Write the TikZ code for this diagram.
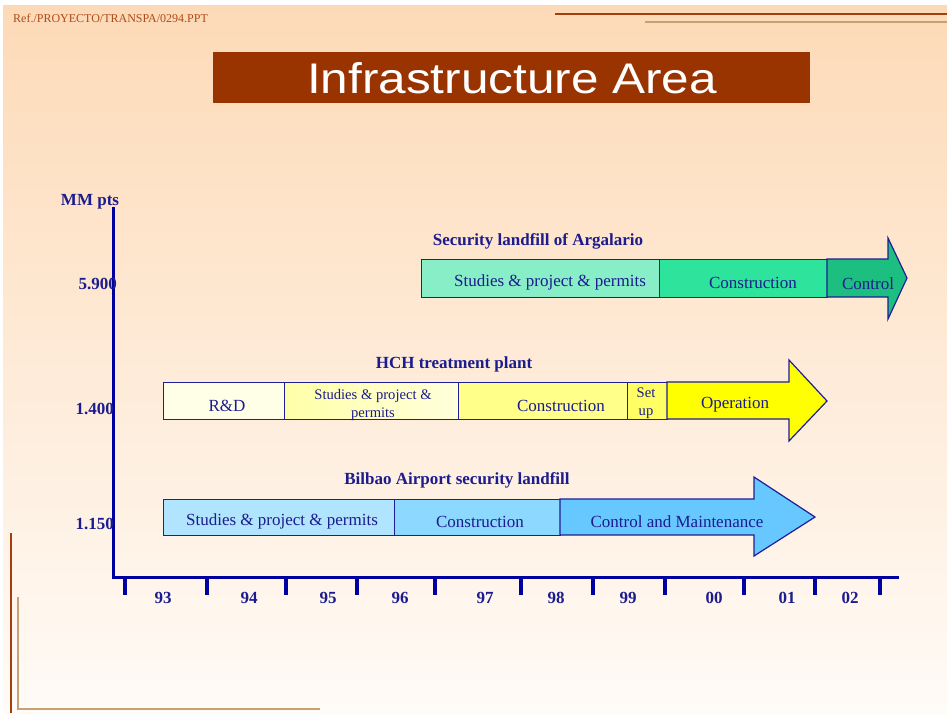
\documentclass[tikz,border=0pt]{standalone}
\usepackage{fontspec}
\setmainfont{Liberation Serif}
\newfontfamily\headfont{Liberation Sans}

\definecolor{ink}{RGB}{28,28,142}
\definecolor{axisblue}{RGB}{0,0,160}
\definecolor{edge}{RGB}{30,30,150}
\definecolor{rust}{RGB}{153,51,0}
\definecolor{rustline}{RGB}{165,62,14}
\definecolor{tan}{RGB}{200,160,120}
\definecolor{refbrown}{RGB}{176,74,26}
\definecolor{bgtop}{RGB}{253,218,183}
\definecolor{bgbot}{RGB}{255,251,247}
% Argalario
\definecolor{gA}{RGB}{136,238,200}
\definecolor{gB}{RGB}{46,227,155}
\definecolor{gC}{RGB}{29,191,128}
% HCH plant
\definecolor{yA}{RGB}{255,255,232}
\definecolor{yBl}{RGB}{255,255,168}
\definecolor{yBr}{RGB}{255,255,220}
\definecolor{yC}{RGB}{255,255,138}
\definecolor{yD}{RGB}{255,255,100}
\definecolor{yE}{RGB}{255,255,0}
% Bilbao
\definecolor{bA}{RGB}{176,228,255}
\definecolor{bB}{RGB}{141,216,255}
\definecolor{bC}{RGB}{102,200,255}

\begin{document}
\begin{tikzpicture}[x=1pt,y=-1pt,
  txt/.style={text=ink, inner sep=0pt, yshift=-1.5pt, font=\fontsize{17}{18}\selectfont},
  bold/.style={text=ink, inner sep=0pt, yshift=-1.5pt, font=\fontsize{17}{18}\selectfont\bfseries},
  small/.style={text=ink, inner sep=0pt, yshift=-1.5pt, align=center, font=\fontsize{14.6}{18}\selectfont},
  barbox/.style={draw=edge, line width=1.2pt, rectangle, inner sep=0pt, anchor=north west},
  headarrow/.style={draw=edge, line width=1.2pt, line join=miter},
  axisline/.style={draw=axisblue, line width=3pt},
  tick/.style={draw=axisblue, line width=3.3pt},
]
% page and background
\useasboundingbox (0,0) rectangle (947,713);
\fill[white] (0,0) rectangle (947,713);
\shade[top color=bgtop, bottom color=bgbot] (3,5) rectangle (947,713);

% header decorations
\node[anchor=west, text=refbrown, inner sep=0pt, font=\fontsize{12}{13}\selectfont] (ref) at (13,18.5) {Ref./PROYECTO/TRANSPA/0294.PPT};
\coordinate (rl1a) at (555,14); \coordinate (rl1b) at (947,14);
\coordinate (rl2a) at (645,22); \coordinate (rl2b) at (947,22);
\draw[rustline, line width=2pt] (rl1a) -- (rl1b);
\draw[tan, line width=1.3pt] (rl2a) -- (rl2b);

% title banner
\node[fill=rust, anchor=north west, minimum width=597pt, minimum height=51pt, inner sep=0pt] (banner) at (213,52) {};
\node[text=white, inner sep=0pt] (title) at (512,78) {\resizebox{410pt}{31pt}{\headfont Infrastructure Area}};

% footer decorations
\coordinate (fl1a) at (11,533); \coordinate (fl1b) at (11,713);
\coordinate (fl2a) at (18,597); \coordinate (fl2b) at (18,709); \coordinate (fl2c) at (320,709);
\draw[rustline, line width=2pt] (fl1a) -- (fl1b);
\draw[tan, line width=1.3pt] (fl2a) -- (fl2b) -- (fl2c);

% axes
\coordinate (ytop) at (113,207);
\coordinate (origin) at (113,577);
\coordinate (xend) at (899,577);
\draw[axisline] (ytop) -- (origin) -- (xend);
\foreach \x in {125,207,286,357,435,521,593,665,744,815,880}
  \draw[tick] (\x,577) -- (\x,595);
\foreach \x/\yr in {163/93,249/94,328/95,400/96,485/97,556/98,628/99,714/00,787/01,850/02}
  \node[bold] (yr\yr) at (\x,596) {\yr};

\node[bold] (unit) at (90,200) {MM pts};
\node[bold, anchor=east] (v5900) at (117,282) {5.900};
\node[bold, anchor=east] (v1400) at (114,407) {1.400};
\node[bold, anchor=east] (v1150) at (114,522) {1.150};

% ---- Security landfill of Argalario
\node[bold] (argTitle) at (538,240) {Security landfill of Argalario};
\node[barbox, fill=gA, minimum width=238pt, minimum height=38pt] (argA) at (421,259) {};
\node[barbox, fill=gB, minimum width=168pt, minimum height=38pt] (argB) at (659,259) {};
\filldraw[headarrow, fill=gC] (827,259) -- (888,259) -- (888,238) -- (907,278) -- (888,319) -- (888,297) -- (827,297) -- cycle;
\node[txt] (argAt) at (550,281) {Studies \& project \& permits};
\node[txt] (argBt) at (753,281) {Construction};
\node[txt] (argCt) at (868,282) {Control};

% ---- HCH treatment plant
\node[bold] (hchTitle) at (454,363) {HCH treatment plant};
\node[barbox, fill=yA, minimum width=121pt, minimum height=37pt] (hchA) at (163,382) {};
\node[barbox, left color=yBl, right color=yBr, minimum width=174pt, minimum height=37pt] (hchB) at (284,382) {};
\node[barbox, fill=yC, minimum width=169pt, minimum height=37pt] (hchC) at (458,382) {};
\node[barbox, fill=yD, minimum width=40pt, minimum height=37pt] (hchD) at (627,382) {};
\filldraw[headarrow, fill=yE] (667,382) -- (789,382) -- (789,360) -- (827,401) -- (789,441) -- (789,419) -- (667,419) -- cycle;
\node[txt] (hchAt) at (227,404) {R\&D};
\node[small] (hchBt) at (373,403) {Studies \& project \&\\permits};
\node[txt] (hchCt) at (561,404) {Construction};
\node[small] (hchDt) at (646,402) {Set\\up};
\node[txt] (hchEt) at (735,403) {Operation};

% ---- Bilbao Airport security landfill
\node[bold] (bioTitle) at (457,479) {Bilbao Airport security landfill};
\node[barbox, fill=bA, minimum width=231pt, minimum height=36pt] (bioA) at (163,499) {};
\node[barbox, fill=bB, minimum width=166pt, minimum height=36pt] (bioB) at (394,499) {};
\filldraw[headarrow, fill=bC] (560,499) -- (754,499) -- (754,477) -- (815,517) -- (754,556) -- (754,535) -- (560,535) -- cycle;
\node[txt] (bioAt) at (282,520) {Studies \& project \& permits};
\node[txt] (bioBt) at (480,520) {Construction};
\node[txt] (bioCt) at (677,520) {Control and Maintenance};
\end{tikzpicture}
\end{document}
